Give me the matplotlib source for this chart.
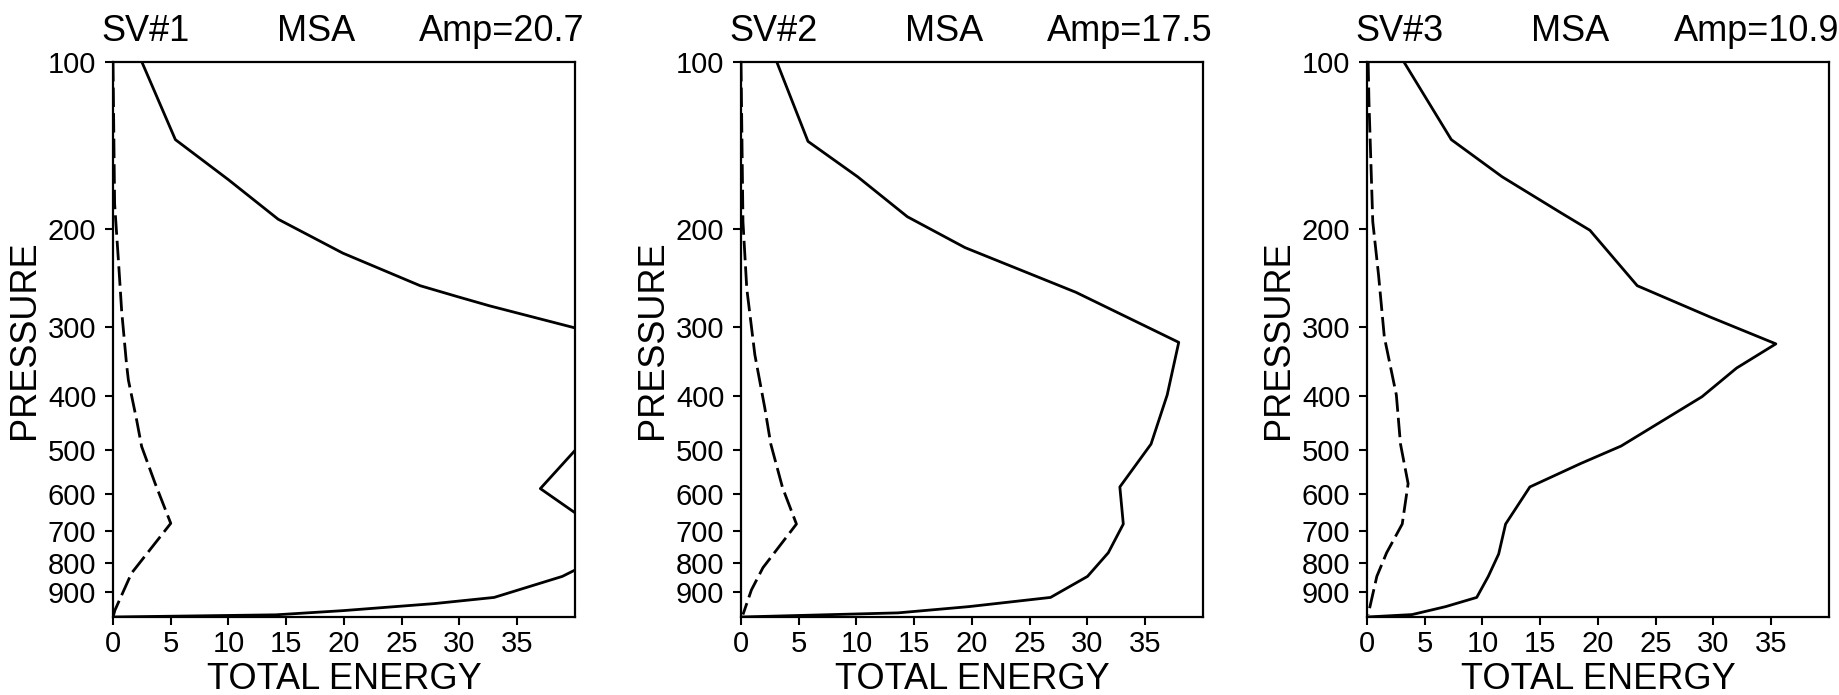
"""
Total energy profiles of the first three singular vectors (SV#1-3)
  solid  = total energy of the SV
  dashed = second energy profile (initial time)
"""

import matplotlib
matplotlib.use("Agg")
import matplotlib.pyplot as plt

plt.rcParams["font.family"] = ["Liberation Sans", "DejaVu Sans"]

# --- Daten ---
sv_names = ["SV#1", "SV#2", "SV#3"]
msa_amp  = [20.7, 17.5, 10.9]

# SV#1 (solid leaves the frame between ~300 and ~840 hPa)
p_solid_1 = [100, 138, 163, 192, 221, 253, 265, 275, 301, 320, 400, 488, 587, 680, 766, 845, 922, 946, 974, 991, 1000]
e_solid_1 = [2.5, 5.4, 10.0, 14.3, 19.9, 26.6, 29.9, 32.6, 39.9, 44.0, 46.0, 40.5, 37.0, 41.4, 43.0, 38.9, 33.0, 27.8, 19.9, 14.1, 0.0]
p_dash_1  = [100, 180, 233, 281, 350, 374, 442, 493, 574, 678, 834, 972, 1000]
e_dash_1  = [0.0, 0.14, 0.5, 0.75, 1.17, 1.33, 2.05, 2.48, 3.64, 5.0, 1.6, 0.17, 0.0]

# SV#2
p_solid_2 = [100, 139, 161, 190, 216, 260, 320, 398, 488, 583, 680, 766, 845, 922, 958, 983, 1000]
e_solid_2 = [3.1, 5.8, 10.1, 14.4, 19.4, 29.0, 37.9, 36.9, 35.5, 32.8, 33.1, 31.8, 30.0, 26.8, 19.7, 13.6, 0.0]
p_dash_2  = [100, 194, 256, 337, 420, 488, 585, 680, 815, 894, 990]
e_dash_2  = [0.0, 0.17, 0.5, 1.2, 2.06, 2.58, 3.6, 4.8, 1.9, 0.9, 0.17]

# SV#3
p_solid_3 = [100, 138, 161, 187, 201, 253, 288, 322, 356, 401, 492, 529, 583, 680, 770, 845, 922, 958, 990, 1000]
e_solid_3 = [3.2, 7.3, 11.7, 16.8, 19.3, 23.4, 29.7, 35.4, 32.0, 29.0, 22.0, 18.5, 14.1, 12.0, 11.4, 10.5, 9.5, 6.8, 3.9, 0.0]
p_dash_3  = [100, 118, 194, 242, 313, 398, 488, 575, 680, 766, 845, 990]
e_dash_3  = [0.1, 0.17, 0.5, 1.0, 1.5, 2.54, 2.9, 3.56, 3.05, 1.7, 0.85, 0.1]

p_ticks = [100, 200, 300, 400, 500, 600, 700, 800, 900]
e_ticks = [0, 5, 10, 15, 20, 25, 30, 35]

panels = [
    (p_solid_1, e_solid_1, p_dash_1, e_dash_1),
    (p_solid_2, e_solid_2, p_dash_2, e_dash_2),
    (p_solid_3, e_solid_3, p_dash_3, e_dash_3),
]

# --- Plot ---
W, H = 1840, 695
fig = plt.figure(figsize=(W / 100, H / 100), dpi=100)

lefts = [113, 741, 1367]   # Pixel
ax_w, ax_h, ax_top = 462, 555, 62

for i, (ps, es, pd_, ed) in enumerate(panels):
    ax = fig.add_axes([lefts[i] / W, (H - ax_top - ax_h) / H, ax_w / W, ax_h / H])
    ax.plot(es, ps, color="black", linewidth=2.0)
    ax.plot(ed, pd_, color="black", linewidth=2.0, linestyle=(0, (7, 2.2)))

    ax.set_yscale("log")
    ax.set_ylim(1000, 100)
    ax.set_xlim(0, 40)
    ax.minorticks_off()
    ax.set_yticks(p_ticks)
    ax.set_yticklabels([str(p) for p in p_ticks])
    ax.set_xticks(e_ticks)
    ax.set_xticklabels([str(e) for e in e_ticks])

    ax.tick_params(axis="both", direction="out", length=6, width=1.5, labelsize=21)
    ax.tick_params(axis="x", pad=3)
    ax.tick_params(axis="y", pad=6)
    for s in ax.spines.values():
        s.set_linewidth(1.6)

    ax.set_xlabel("TOTAL ENERGY", fontsize=26, labelpad=3)
    ax.set_ylabel("PRESSURE", fontsize=26, labelpad=4)

    # Titel: links SV-Nummer, rechts Amplitude
    ty = 1 + (ax_top - 41) / ax_h
    ax.text(-12 / ax_w, ty, sv_names[i], transform=ax.transAxes,
            ha="left", va="baseline", fontsize=26)
    ax.text((277 - 113) / ax_w, ty, "MSA", transform=ax.transAxes,
            ha="left", va="baseline", fontsize=26)
    ax.text(1 + 10 / ax_w, ty, f"Amp={msa_amp[i]}", transform=ax.transAxes,
            ha="right", va="baseline", fontsize=26)

fig.savefig("out.png", dpi=100)
plt.close(fig)
